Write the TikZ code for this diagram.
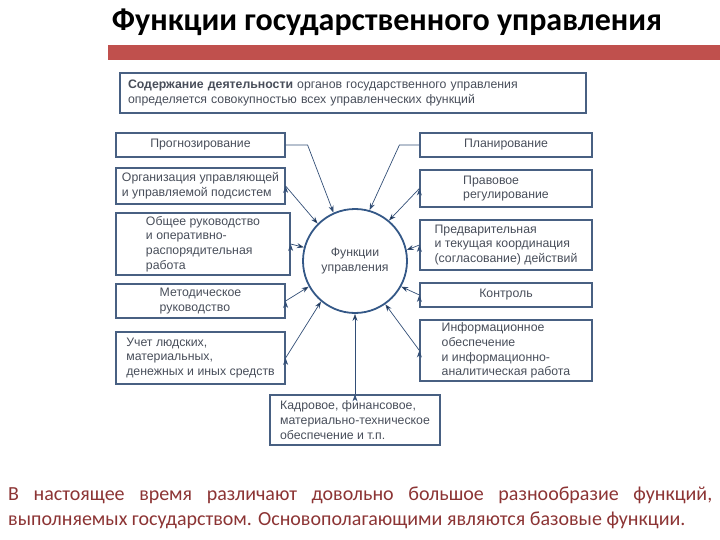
\documentclass[tikz,border=0pt]{standalone}
\usepackage{fontspec}
\setmainfont{Liberation Sans}
\newfontfamily\calfont{Carlito}
\usetikzlibrary{arrows.meta}
\definecolor{barred}{RGB}{192,80,77}
\definecolor{boxline}{RGB}{72,96,130}
\definecolor{boxtext}{RGB}{72,78,90}
\definecolor{arrowline}{RGB}{50,78,118}
\definecolor{ringline}{RGB}{52,88,135}
\definecolor{notetext}{RGB}{140,52,52}

\begin{document}
\begin{tikzpicture}[x=1pt, y=-1pt,
	fbox/.style={draw=boxline, line width=1.2pt, rectangle, align=left, text=boxtext, inner sep=0pt, font=\fontsize{12.3}{14.8}\selectfont},
	link/.style={draw=arrowline, line width=0.7pt, -{Stealth[length=7pt, width=5pt]}}]
			\useasboundingbox (0, 0) rectangle (720, 540);
			% title and bar
			\draw (387, 22) node [font=\calfont\bfseries\fontsize{32}{38}\selectfont] (title) {Функции государственного управления};
			\fill [barred] (108, 45) rectangle (720, 60);
			% header box
			\draw (353, 93) node [fbox, minimum width=466pt, minimum height=40pt, text width=450pt] (head) {\textbf{Содержание деятельности} органов государственного управления\\определяется совокупностью всех управленческих функций};
			% centre
			\draw (355, 261) node [circle, draw=ringline, line width=1.8pt, minimum size=104pt, align=center, text=boxtext, font=\fontsize{12.3}{15.5}\selectfont] (fu) {Функции\\управления};
			% left column
			\draw (200.5, 145) node [fbox, minimum width=169pt, minimum height=24pt] (prog) {Прогнозирование};
			\draw (200.5, 186) node [fbox, minimum width=169pt, minimum height=36pt] (org) {Организация управляющей\\и управляемой подсистем};
			\draw (203, 244) node [fbox, minimum width=174pt, minimum height=62pt] (obsh) {Общее руководство\\и оперативно-\\распорядительная\\работа};
			\draw (200.5, 301) node [fbox, minimum width=169pt, minimum height=34pt] (met) {Методическое\\руководство};
			\draw (200.5, 358) node [fbox, minimum width=169pt, minimum height=52pt] (uchet) {Учет людских,\\материальных,\\денежных и иных средств};
			% right column
			\draw (506, 145) node [fbox, minimum width=172pt, minimum height=24pt] (plan) {Планирование};
			\draw (506, 188.5) node [fbox, minimum width=172pt, minimum height=37pt] (prav) {Правовое\\регулирование};
			\draw (506, 245) node [fbox, minimum width=172pt, minimum height=50pt] (pred) {Предварительная\\и текущая координация\\(согласование) действий};
			\draw (506, 295) node [fbox, minimum width=172pt, minimum height=24pt] (kontr) {Контроль};
			\draw (506, 350.5) node [fbox, minimum width=172pt, minimum height=61pt] (inf) {Информационное\\обеспечение\\и информационно-\\аналитическая работа};
			% bottom
			\draw (355, 420) node [fbox, minimum width=170pt, minimum height=50pt] (bot) {Кадровое, финансовое,\\материально-техническое\\обеспечение и т.п.};
			% arrows
			\draw [link] (prog.east) -- ++(22, 0) -- (fu.114);
			\draw [link] (plan.west) -- ++(-20, 0) -- (fu.74);
			\path [link] (org.east) edge (fu.135);
			\path [link] (prav.west) edge (fu.50);
			\path [link] (obsh.east) edge (fu.165);
			\path [link] (pred.west) edge (fu.12);
			\path [link] (met.east) edge (fu.209);
			\path [link] (kontr.west) edge (fu.331);
			\path [link] (uchet.east) edge (fu.230);
			\path [link] (inf.west) edge (fu.305);
			\path [link] (bot.north) edge (fu.south);
			% note
			\draw (8, 500) node [anchor=base west, inner sep=0pt, text=notetext, font=\calfont\fontsize{20}{25}\selectfont] (note1) {\makebox[704pt][s]{В настоящее время различают довольно большое разнообразие функций,}};
			\draw (8, 525) node [anchor=base west, inner sep=0pt, text=notetext, font=\calfont\fontsize{20}{25}\selectfont] (note2) {выполняемых государством. Основополагающими являются базовые функции.};
		\end{tikzpicture}
\end{document}
